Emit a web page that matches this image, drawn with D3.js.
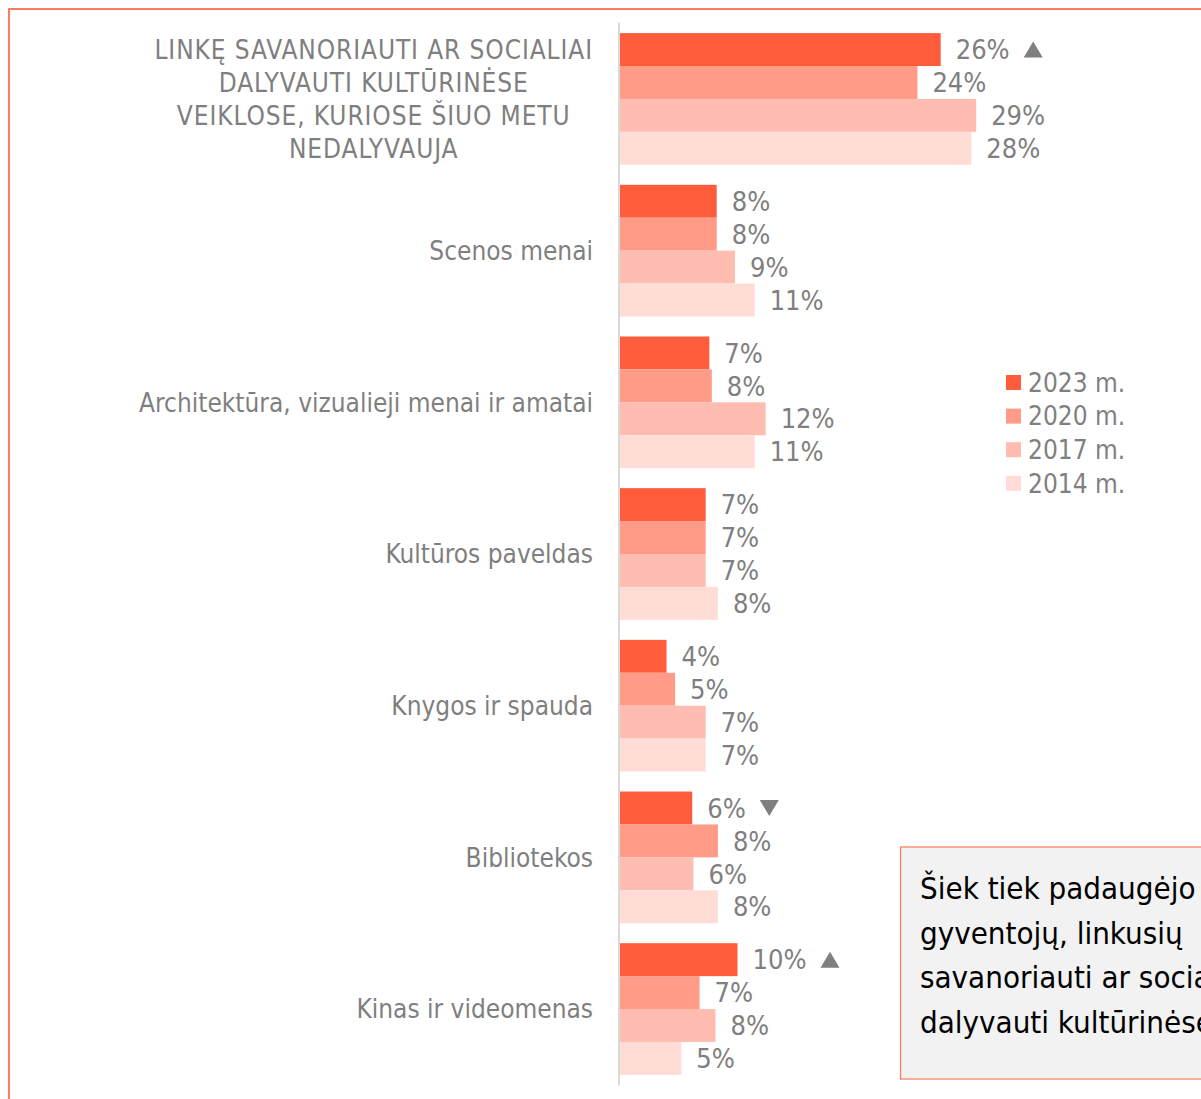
<!DOCTYPE html>
<html lang="lt">

<head>
    <meta charset="utf-8">
    <title>Savanorystė kultūroje</title>
    <script type="text/javascript" src="https://cdnjs.cloudflare.com/ajax/libs/d3/7.8.5/d3.min.js"></script>
    <style>
        body { margin: 0; background: #fff; }
        text { font-family: "DejaVu Sans Condensed", "DejaVu Sans", sans-serif; font-stretch: condensed; }
    </style>
</head>

<body>

    <script type="text/javascript">
    // categories (top to bottom)
    var categories = [
        ["LINKĘ SAVANORIAUTI AR SOCIALIAI", "DALYVAUTI KULTŪRINĖSE", "VEIKLOSE, KURIOSE ŠIUO METU", "NEDALYVAUJA"],
        ["Scenos menai"],
        ["Architektūra, vizualieji menai ir amatai"],
        ["Kultūros paveldas"],
        ["Knygos ir spauda"],
        ["Bibliotekos"],
        ["Kinas ir videomenas"]
    ];

    var years = ["2023 m.", "2020 m.", "2017 m.", "2014 m."];
    var colors = ["#ff5c3b", "#ff9b87", "#ffbcb0", "#ffddd6"];

    // bar lengths
    var v2023 = [26.2, 7.9, 7.3, 7.0, 3.8, 5.9, 9.6];
    var v2020 = [24.3, 7.9, 7.5, 7.0, 4.5, 8.0, 6.5];
    var v2017 = [29.1, 9.4, 11.9, 7.0, 7.0, 6.0, 7.8];
    var v2014 = [28.7, 11.0, 11.0, 8.0, 7.0, 8.0, 5.0];

    // printed labels
    var l2023 = ["26%", "8%", "7%", "7%", "4%", "6%", "10%"];
    var l2020 = ["24%", "8%", "8%", "7%", "5%", "8%", "7%"];
    var l2017 = ["29%", "9%", "12%", "7%", "7%", "6%", "8%"];
    var l2014 = ["28%", "11%", "11%", "8%", "7%", "8%", "5%"];

    // change markers on 2023 bars
    var marks2023 = ["up", null, null, null, null, "down", "up"];

    var noteLines = ["Šiek tiek padaugėjo", "gyventojų, linkusių", "savanoriauti ar socialiai", "dalyvauti kultūrinėse"];

    var values = [v2023, v2020, v2017, v2014];
    var labels = [l2023, l2020, l2017, l2014];

    var width = 1201, height = 1099;
    var gray = "#7f7f7f";
    var fs = 26;

    var svg = d3.select("body")
        .append("svg")
        .attr("width", width)
        .attr("height", height);

    svg.append("rect")
        .attr("x", 9).attr("y", 9)
        .attr("width", width + 20).attr("height", height + 20)
        .attr("fill", "#fff")
        .attr("stroke", "#ff5c3b")
        .attr("stroke-width", 1.6);

    var x0 = 620;
    var x = d3.scaleLinear().domain([0, 10]).range([x0, x0 + 122.4]);

    var y = d3.scaleBand()
        .domain(d3.range(categories.length))
        .range([22.5, 1085.5])
        .paddingInner(0.132)
        .paddingOuter(0.07);

    var ySub = d3.scaleBand()
        .domain(d3.range(years.length))
        .range([0, y.bandwidth()]);

    // axis line
    svg.append("line")
        .attr("x1", x0 - 1).attr("x2", x0 - 1)
        .attr("y1", y.range()[0]).attr("y2", y.range()[1])
        .attr("stroke", "#d9d9d9")
        .attr("stroke-width", 2);

    var groups = svg.selectAll("g.cat")
        .data(categories)
        .enter()
        .append("g")
        .attr("class", "cat")
        .attr("transform", function(d, i) { return "translate(0," + y(i) + ")"; });

    groups.each(function(cat, ci) {
        var g = d3.select(this);
        for (var s = 0; s < years.length; s++) {
            var val = values[s][ci];
            g.append("rect")
                .attr("x", x0)
                .attr("y", ySub(s))
                .attr("width", x(val) - x0)
                .attr("height", ySub.bandwidth())
                .attr("fill", colors[s]);

            var t = g.append("text")
                .attr("x", x(val) + 15)
                .attr("y", ySub(s) + ySub.bandwidth() / 2)
                .attr("dy", "0.36em")
                .attr("fill", gray)
                .style("font-size", (fs + 1) + "px")
                .text(labels[s][ci]);

            if (s == 0 && marks2023[ci]) {
                var tx = x(val) + 15 + t.node().getComputedTextLength() + 14;
                var cy = ySub(s) + ySub.bandwidth() / 2;
                var p = marks2023[ci] == "up" ?
                    [[tx, cy + 8], [tx + 19, cy + 8], [tx + 9.5, cy - 8]] :
                    [[tx, cy - 8], [tx + 19, cy - 8], [tx + 9.5, cy + 8]];
                g.append("path")
                    .attr("d", d3.line()(p) + "Z")
                    .attr("fill", gray);
            }
        }

        // category label, lines centred among themselves, block right aligned
        var lt = g.append("text")
            .attr("fill", gray)
            .style("font-size", fs + "px")
            .style("letter-spacing", cat.length > 1 ? "0.9px" : null)
            .attr("text-anchor", "middle");
        var lineH = 33;
        var top = y.bandwidth() / 2 - (cat.length - 1) * lineH / 2;
        cat.forEach(function(line, li) {
            lt.append("tspan")
                .attr("x", 0)
                .attr("y", top + li * lineH)
                .attr("dy", "0.36em")
                .text(line);
        });
        var maxW = 0;
        lt.selectAll("tspan").each(function() {
            maxW = Math.max(maxW, this.getComputedTextLength());
        });
        lt.selectAll("tspan").attr("x", 593 - maxW / 2);
    });

    // legend
    var legend = svg.append("g").attr("transform", "translate(1006,375)");
    years.forEach(function(yr, i) {
        legend.append("rect")
            .attr("x", 0).attr("y", i * 33.6)
            .attr("width", 15).attr("height", 15)
            .attr("fill", colors[i]);
        legend.append("text")
            .attr("x", 22).attr("y", i * 33.6 + 7.5)
            .attr("dy", "0.36em")
            .attr("fill", gray)
            .style("font-size", fs + "px")
            .text(yr);
    });

    // note box
    svg.append("rect")
        .attr("x", 900.5).attr("y", 847)
        .attr("width", 400).attr("height", 232)
        .attr("fill", "#f2f2f2")
        .attr("stroke", "#ff7a5c")
        .attr("stroke-width", 1.2);

    svg.selectAll("text.note")
        .data(noteLines)
        .enter()
        .append("text")
        .attr("class", "note")
        .attr("x", 920)
        .attr("y", function(d, i) { return 899 + i * 44.5; })
        .attr("fill", "#000")
        .style("font-size", "31px")
        .text(function(d) { return d; });
    </script>

</body>

</html>
